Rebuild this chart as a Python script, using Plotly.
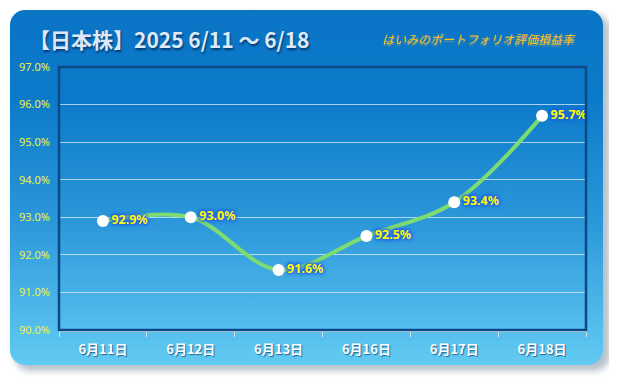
import base64
import plotly.graph_objects as go

# ---- data ----
dates = ["6月11日", "6月12日", "6月13日", "6月16日", "6月17日", "6月18日"]
ratio = [92.9, 93.0, 91.6, 92.5, 93.4, 95.7]
y_ticks = [90, 91, 92, 93, 94, 95, 96, 97]
title_text = "【日本株】2025 6/11 ～ 6/18"
subtitle_text = "はいみのポートフォリオ評価損益率"

# page has an 8px body margin, so work in shifted coordinates
OFF = 8
W, H = 617 - OFF, 380 - OFF
ML, MR, MT, MB = 59 - OFF, 617 - 586, 67 - OFF, 380 - 330
PW, PH = W - ML - MR, H - MT - MB

def sx(x):
    return x - OFF

svg = f"""<svg xmlns='http://www.w3.org/2000/svg' width='{W}' height='{H}' viewBox='0 0 {W} {H}'>
<defs>
<linearGradient id='g' x1='0' y1='0' x2='0' y2='1'>
<stop offset='0' stop-color='#0a74c5'/>
<stop offset='0.25' stop-color='#0c7aca'/>
<stop offset='0.6' stop-color='#2c98da'/>
<stop offset='1' stop-color='#62cbf3'/>
</linearGradient>
<filter id='b' x='-10%' y='-10%' width='120%' height='120%'><feGaussianBlur stdDeviation='3'/></filter>
</defs>
<rect x='{sx(14)}' y='{sx(14)}' width='596' height='357' rx='16' ry='16' fill='#b8c2cc' filter='url(#b)'/>
<rect x='{sx(10)}' y='{sx(10)}' width='593' height='355' rx='15' ry='15' fill='url(#g)'/>
</svg>"""
src = "data:image/svg+xml;base64," + base64.b64encode(svg.encode()).decode()

glow = "0px 0px 2px #2157e6, 0px 0px 3px #2157e6, 0px 0px 4px #2157e6, 0px 0px 5px #2a5ee8"

fig = go.Figure()
fig.add_trace(go.Scatter(
    x=dates, y=ratio, mode="lines+markers+text",
    line=dict(color="#7edb72", width=4, shape="spline", smoothing=1.0),
    marker=dict(color="white", size=12, line=dict(width=0)),
    text=[f"{v:.1f}%" for v in ratio],
    textposition="middle right",
    textfont=dict(color="#ffff00", size=12.5, family="Noto Sans, DejaVu Sans", weight="bold",
                  shadow=glow),
    hoverinfo="skip", cliponaxis=False,
))

fig.update_layout(
    width=W, height=H,
    margin=dict(l=ML, r=MR, t=MT, b=MB),
    paper_bgcolor="white", plot_bgcolor="rgba(0,0,0,0)",
    showlegend=False,
    images=[dict(source=src, xref="paper", yref="paper",
                 x=-ML / PW, y=1 + MT / PH, sizex=W / PW, sizey=H / PH,
                 xanchor="left", yanchor="top", sizing="stretch", layer="below")],
    title=dict(text=title_text, xref="container", yref="container",
               x=sx(29) / W, xanchor="left", y=1 - sx(41) / H, yanchor="middle",
               font=dict(family="Noto Sans CJK JP", size=21, color="#dde9f6", weight="bold",
                         shadow="1px 2px 2px rgba(0,20,60,0.6)")),
    annotations=[dict(text=subtitle_text, xref="paper", yref="paper",
                      x=(sx(578) - ML) / PW, xanchor="right", y=1 + (MT - sx(39)) / PH, yanchor="middle",
                      showarrow=False,
                      font=dict(family="Noto Sans CJK JP", size=12, color="#ffc21a", style="italic",
                                shadow="0px 2px 1px rgba(255,200,60,0.35)"))],
    shapes=[dict(type="rect", xref="paper", yref="paper", x0=0, x1=1, y0=0, y1=1,
                 line=dict(color="#0b4a86", width=2.5), layer="above")],
)

fig.update_xaxes(
    type="category", range=[-0.5, len(dates) - 0.5],
    showgrid=False, tickson="boundaries", ticks="outside", ticklen=5,
    tickcolor="#d8dde2", showline=True, linecolor="#d8dde2", linewidth=2,
    ticklabelstandoff=6,
    tickfont=dict(family="Noto Sans CJK JP", size=13, color="white", weight="bold",
                  shadow="1px 1px 1px rgba(0,40,90,0.6)"),
    zeroline=False,
)
fig.update_yaxes(
    range=[90, 97], tickvals=y_ticks, ticktext=[f"{v:.1f}%" for v in y_ticks],
    showgrid=True, gridcolor="rgba(220,238,255,0.75)", gridwidth=1,
    ticklabelstandoff=8,
    tickfont=dict(family="Noto Sans, DejaVu Sans", size=11, color="#ecf53c"),
    ticks="", showline=False, zeroline=False,
)

fig.write_html("out.html")
